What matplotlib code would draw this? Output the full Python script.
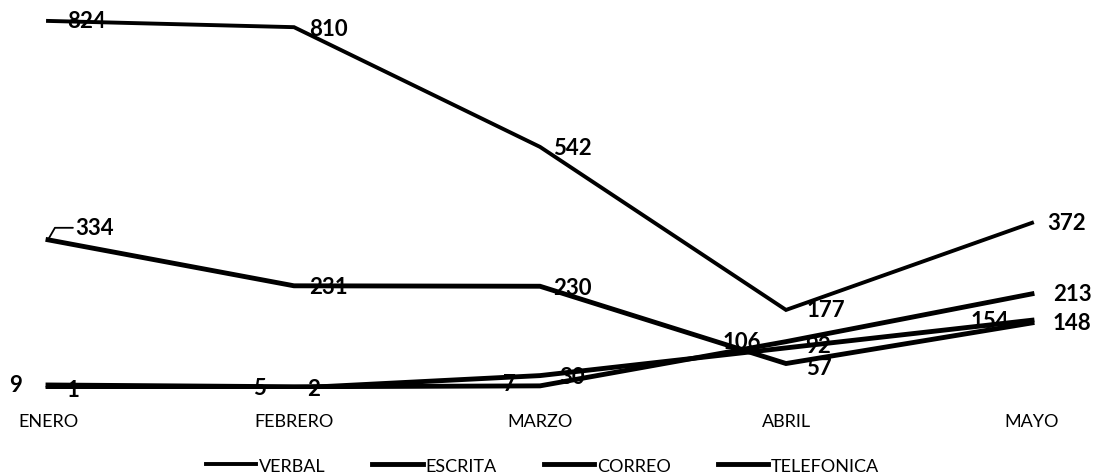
import matplotlib
matplotlib.use("Agg")
import matplotlib.pyplot as plt

plt.rcParams['font.family'] = ['Lato', 'DejaVu Sans']

months = ["ENERO", "FEBRERO", "MARZO", "ABRIL", "MAYO"]
verbal = [824, 810, 542, 177, 372]
escrita = [334, 231, 230, 57, 148]
correo = [9, 5, 7, 106, 213]
telefonica = [1, 2, 30, 92, 154]
series_names = ["VERBAL", "ESCRITA", "CORREO", "TELEFONICA"]

# label offsets in pixels (dx, dy; dy up) per point
offsets = {
    "VERBAL": [(39, 0), (34, -1), (32, -1), (40, 0), (35, 0)],
    "ESCRITA": [(47, 12), (34, -1), (32, -1), (33, -4), (40, 0)],
    "CORREO": [(-32, 0), (-34, -1), (-31, 2), (-44, 0), (40, 0)],
    "TELEFONICA": [(25, -1), (20, 0), (32, -1), (32, 2), (-42, 0)],
}
widths = {"VERBAL": 2.8, "ESCRITA": 3.5, "CORREO": 3.5, "TELEFONICA": 3.5}

fig = plt.figure(figsize=(11.07, 4.77), dpi=100)
ax = fig.add_axes([0, 0.1824, 1, 0.796])
x = list(range(len(months)))
data = {"VERBAL": verbal, "ESCRITA": escrita, "CORREO": correo, "TELEFONICA": telefonica}

lines = {}
for name in series_names:
    (ln,) = ax.plot(x, data[name], color="black", lw=widths[name],
                    solid_joinstyle="miter", label=name, zorder=2)
    lines[name] = ln

for name in series_names:
    for i, v in enumerate(data[name]):
        dx, dy = offsets[name][i]
        kw = {}
        if name == "ESCRITA" and i == 0:
            kw["arrowprops"] = dict(arrowstyle="-", lw=1.3, color="black",
                                    shrinkA=0, shrinkB=0,
                                    connectionstyle="angle,angleA=0,angleB=60,rad=0",
                                    relpos=(0, 0.5))
        ax.annotate(str(v), xy=(i, v), xytext=(dx, dy), textcoords="offset pixels",
                    ha="center", va="center", fontsize=16, fontweight="bold",
                    zorder=3, **kw)

ax.set_xlim(-48 / 246, (1107 - 48) / 246)
ax.set_ylim(0, 850)
ax.set_xticks(x)
ax.set_xticklabels(months, fontsize=13)
ax.tick_params(axis="x", length=0, pad=17)
ax.set_yticks([])
for s in ax.spines.values():
    s.set_visible(False)
ax.patch.set_alpha(0)

fig.legend([lines[n] for n in series_names], series_names, loc="center",
           bbox_to_anchor=(0.49, 0.022), ncol=4, frameon=False, fontsize=13,
           handlelength=2.8, handletextpad=0.15, columnspacing=2.6)

fig.savefig("out.png", dpi=100)
